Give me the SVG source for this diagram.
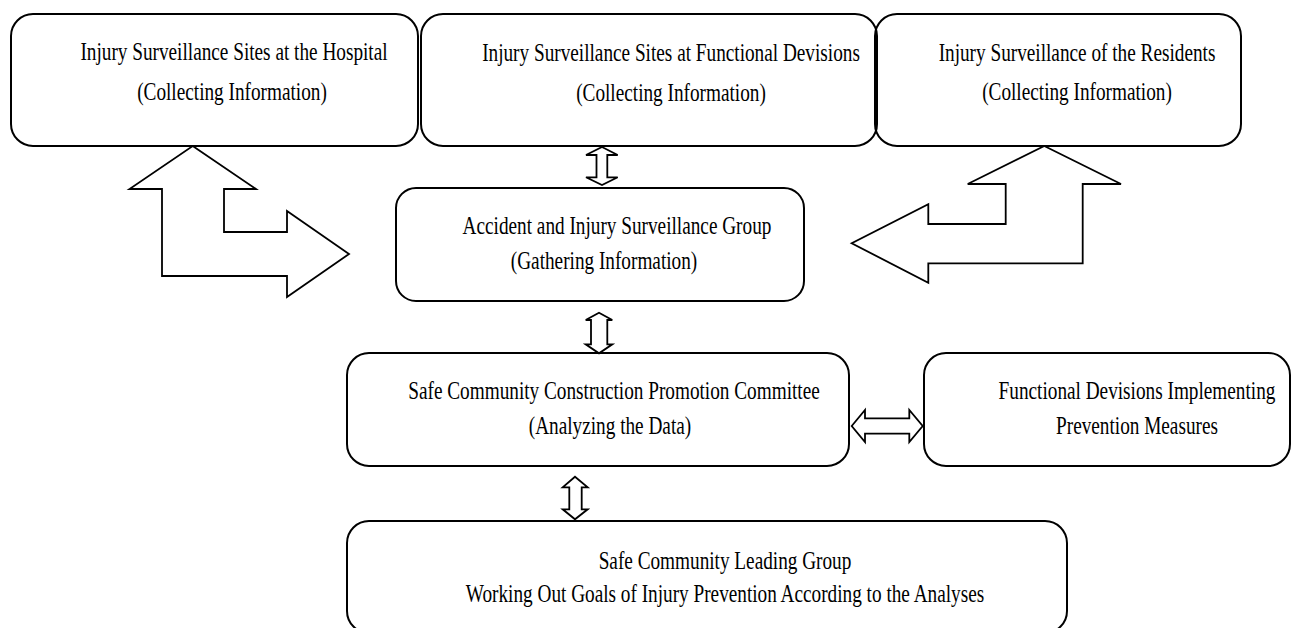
<svg xmlns="http://www.w3.org/2000/svg" width="1297" height="628" viewBox="0 0 1297 628">
<style>
.box{fill:none;stroke:#000;stroke-width:2}
.arr{fill:#fff;stroke:#000;stroke-width:1.8;stroke-linejoin:miter}
.t{font-family:"Liberation Serif","Times New Roman",serif;font-size:25px;fill:#000;text-anchor:middle}
</style>
<rect x="0" y="0" width="1297" height="628" fill="#fff"/>
<g id="connectors">
<polygon class="arr" points="192.7,146 256,189 224,189 224,232 287,232 287,211 349,254 287,297 287,276 162,276 162,189 129.5,189"/>
<polygon class="arr" points="1044.3,146 1121,184 1082.7,184 1082.7,263.3 928.3,263.3 928.3,282.7 851.7,243.3 928.3,204.3 928.3,224 1005.7,224 1005.7,184 967.7,184"/>
<polygon class="arr" points="602,147 617.7,155 607.3,155 607.3,177.3 617.7,177.3 602,185 586,177.3 596.5,177.3 596.5,155 586,155"/>
<polygon class="arr" points="599,312.7 612.3,320 607.3,320 607.3,344.3 612.3,344.3 599,353.3 585.7,344.3 591,344.3 591,320 585.7,320"/>
<polygon class="arr" points="575,476.7 587.7,487.3 581.7,487.3 581.7,509.3 587.7,509.3 575,519.3 562.7,509.3 569.3,509.3 569.3,487.3 562.7,487.3"/>
<polygon class="arr" points="851.7,426 865,410 865,418.3 909.3,418.3 909.3,410 922.7,426 909.3,442 909.3,433.7 865,433.7 865,442"/>
</g>
<g id="n1">
<rect class="box" x="11" y="14" width="407" height="132" rx="22"/>
<text class="t" transform="translate(234,60) scale(0.77,1)">Injury Surveillance Sites at the Hospital</text>
<text class="t" transform="translate(232,100) scale(0.77,1)">(Collecting Information)</text>
</g>
<g id="n2">
<rect class="box" x="421" y="14" width="456" height="132" rx="22"/>
<text class="t" transform="translate(671,61) scale(0.77,1)">Injury Surveillance Sites at Functional Devisions</text>
<text class="t" transform="translate(671,101) scale(0.77,1)">(Collecting Information)</text>
</g>
<g id="n3">
<rect class="box" x="875" y="14" width="366" height="132" rx="22"/>
<text class="t" transform="translate(1077,61) scale(0.77,1)">Injury Surveillance of the Residents</text>
<text class="t" transform="translate(1077,100) scale(0.77,1)">(Collecting Information)</text>
</g>
<g id="n4">
<rect class="box" x="396" y="188" width="408" height="113" rx="20"/>
<text class="t" transform="translate(617,234) scale(0.77,1)">Accident and Injury Surveillance Group</text>
<text class="t" transform="translate(604,269) scale(0.77,1)">(Gathering Information)</text>
</g>
<g id="n5">
<rect class="box" x="347" y="353" width="502" height="113" rx="22"/>
<text class="t" transform="translate(614,399) scale(0.77,1)">Safe Community Construction Promotion Committee</text>
<text class="t" transform="translate(610,434) scale(0.77,1)">(Analyzing the Data)</text>
</g>
<g id="n6">
<rect class="box" x="924" y="353" width="366" height="113" rx="22"/>
<text class="t" transform="translate(1137,399) scale(0.77,1)">Functional Devisions Implementing</text>
<text class="t" transform="translate(1137,434) scale(0.77,1)">Prevention Measures</text>
</g>
<g id="n7">
<rect class="box" x="347" y="521" width="720" height="112" rx="22"/>
<text class="t" transform="translate(725,569) scale(0.77,1)">Safe Community Leading Group</text>
<text class="t" transform="translate(725,602) scale(0.77,1)">Working Out Goals of Injury Prevention According to the Analyses</text>
</g>
</svg>
